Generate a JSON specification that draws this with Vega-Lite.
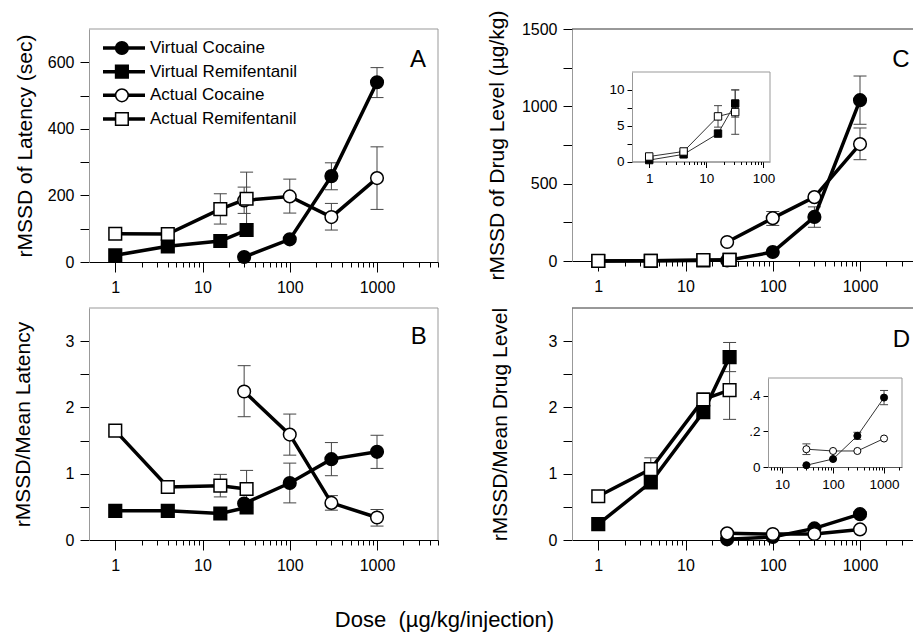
{
"$schema": "https://vega.github.io/schema/vega-lite/v6.json",
"width": 913, "height": 635, "autosize": {"type": "none"}, "padding": 0, "background": "white",
"config": {"view": {"stroke": null}, "font": "Liberation Sans",
  "axis": {"labelFont": "Liberation Sans", "titleFont": "Liberation Sans", "labelColor": "black", "titleColor": "black", "tickColor": "black", "domainColor": "black", "grid": false, "labelFontSize": 16, "titleFontSize": 21, "titleFontWeight": "normal", "labelOverlap": false, "labelFlush": false, "domainWidth": 1, "tickWidth": 1},
  "text": {"font": "Liberation Sans", "color": "black"}},
"title": {"text": "Dose\u00a0\u00a0(µg/kg/injection)", "orient": "bottom", "anchor": "middle", "frame": "group", "offset": -25, "dx": -12, "fontSize": 22, "fontWeight": "normal", "font": "Liberation Sans", "color": "black"},
"datasets": {
"m": [
{"p":"A","s":"Virtual Cocaine","d":30,"v":15},
{"p":"A","s":"Virtual Cocaine","d":100,"v":68},
{"p":"A","s":"Virtual Cocaine","d":300,"v":258,"lo":217,"hi":298},
{"p":"A","s":"Virtual Cocaine","d":1000,"v":540,"lo":494,"hi":584},
{"p":"A","s":"Virtual Remifentanil","d":1,"v":20},
{"p":"A","s":"Virtual Remifentanil","d":4,"v":47},
{"p":"A","s":"Virtual Remifentanil","d":16,"v":63},
{"p":"A","s":"Virtual Remifentanil","d":32,"v":96},
{"p":"A","s":"Actual Cocaine","d":30,"v":185,"lo":146,"hi":225},
{"p":"A","s":"Actual Cocaine","d":100,"v":197,"lo":147,"hi":249},
{"p":"A","s":"Actual Cocaine","d":300,"v":135,"lo":96,"hi":176},
{"p":"A","s":"Actual Cocaine","d":1000,"v":252,"lo":158,"hi":346},
{"p":"A","s":"Actual Remifentanil","d":1,"v":85},
{"p":"A","s":"Actual Remifentanil","d":4,"v":84},
{"p":"A","s":"Actual Remifentanil","d":16,"v":159,"lo":114,"hi":205},
{"p":"A","s":"Actual Remifentanil","d":32,"v":190,"lo":107,"hi":270},
{"p":"B","s":"Virtual Cocaine","d":30,"v":0.55},
{"p":"B","s":"Virtual Cocaine","d":100,"v":0.86,"lo":0.56,"hi":1.16},
{"p":"B","s":"Virtual Cocaine","d":300,"v":1.22,"lo":0.97,"hi":1.47},
{"p":"B","s":"Virtual Cocaine","d":1000,"v":1.33,"lo":1.08,"hi":1.58},
{"p":"B","s":"Virtual Remifentanil","d":1,"v":0.44},
{"p":"B","s":"Virtual Remifentanil","d":4,"v":0.44},
{"p":"B","s":"Virtual Remifentanil","d":16,"v":0.4},
{"p":"B","s":"Virtual Remifentanil","d":32,"v":0.49},
{"p":"B","s":"Actual Cocaine","d":30,"v":2.24,"lo":1.86,"hi":2.63},
{"p":"B","s":"Actual Cocaine","d":100,"v":1.59,"lo":1.28,"hi":1.9},
{"p":"B","s":"Actual Cocaine","d":300,"v":0.56,"lo":0.45,"hi":0.67},
{"p":"B","s":"Actual Cocaine","d":1000,"v":0.34,"lo":0.21,"hi":0.46},
{"p":"B","s":"Actual Remifentanil","d":1,"v":1.65},
{"p":"B","s":"Actual Remifentanil","d":4,"v":0.8},
{"p":"B","s":"Actual Remifentanil","d":16,"v":0.82,"lo":0.65,"hi":0.99},
{"p":"B","s":"Actual Remifentanil","d":32,"v":0.77,"lo":0.49,"hi":1.05},
{"p":"C","s":"Virtual Cocaine","d":30,"v":3},
{"p":"C","s":"Virtual Cocaine","d":100,"v":58},
{"p":"C","s":"Virtual Cocaine","d":300,"v":285,"lo":218,"hi":350},
{"p":"C","s":"Virtual Cocaine","d":1000,"v":1040,"lo":884,"hi":1196},
{"p":"C","s":"Virtual Remifentanil","d":1,"v":0.2},
{"p":"C","s":"Virtual Remifentanil","d":4,"v":1.0},
{"p":"C","s":"Virtual Remifentanil","d":16,"v":3.9},
{"p":"C","s":"Virtual Remifentanil","d":32,"v":8.1,"lo":6.2,"hi":10.0},
{"p":"C","s":"Actual Cocaine","d":30,"v":123},
{"p":"C","s":"Actual Cocaine","d":100,"v":277,"lo":230,"hi":320},
{"p":"C","s":"Actual Cocaine","d":300,"v":413},
{"p":"C","s":"Actual Cocaine","d":1000,"v":756,"lo":655,"hi":860},
{"p":"C","s":"Actual Remifentanil","d":1,"v":0.7},
{"p":"C","s":"Actual Remifentanil","d":4,"v":1.4},
{"p":"C","s":"Actual Remifentanil","d":16,"v":6.3,"lo":4.8,"hi":7.8},
{"p":"C","s":"Actual Remifentanil","d":32,"v":6.9,"lo":3.8,"hi":10.0},
{"p":"D","s":"Virtual Cocaine","d":30,"v":0.01},
{"p":"D","s":"Virtual Cocaine","d":100,"v":0.045},
{"p":"D","s":"Virtual Cocaine","d":300,"v":0.175,"lo":0.155,"hi":0.195},
{"p":"D","s":"Virtual Cocaine","d":1000,"v":0.39,"lo":0.35,"hi":0.43},
{"p":"D","s":"Virtual Remifentanil","d":1,"v":0.24},
{"p":"D","s":"Virtual Remifentanil","d":4,"v":0.87},
{"p":"D","s":"Virtual Remifentanil","d":16,"v":1.93},
{"p":"D","s":"Virtual Remifentanil","d":32,"v":2.76,"lo":2.54,"hi":2.98},
{"p":"D","s":"Actual Cocaine","d":30,"v":0.1,"lo":0.07,"hi":0.13},
{"p":"D","s":"Actual Cocaine","d":100,"v":0.09},
{"p":"D","s":"Actual Cocaine","d":300,"v":0.09},
{"p":"D","s":"Actual Cocaine","d":1000,"v":0.16},
{"p":"D","s":"Actual Remifentanil","d":1,"v":0.66},
{"p":"D","s":"Actual Remifentanil","d":4,"v":1.07,"lo":0.9,"hi":1.24},
{"p":"D","s":"Actual Remifentanil","d":16,"v":2.12,"lo":2.02,"hi":2.22},
{"p":"D","s":"Actual Remifentanil","d":32,"v":2.26,"lo":1.82,"hi":2.7}
],
"leg": [{"s":"Virtual Cocaine"},{"s":"Virtual Remifentanil"},{"s":"Actual Cocaine"},{"s":"Actual Remifentanil"}],
"one": [{"k":1}]
},
"layer": [
{"data": {"name": "m"}, "transform": [{"filter": "datum.p=='A'"}],
 "resolve": {"axis": {"x": "independent", "y": "independent"}},
 "layer": [
  {"mark": {"type":"rule","color":"#444","strokeWidth":1},
   "encoding": {"x": {"field":"d","type":"quantitative","scale":{"type":"log","domain":[0.5,5000],"range":[89,438]},"axis":null},
     "y": {"field":"lo","type":"quantitative","scale":{"domain":[0,700],"range":[262,29]},"axis":null}, "y2": {"field":"hi"}}},
  {"mark": {"type":"tick","orient":"horizontal","color":"#444","size":13,"thickness":1,"opacity":1},
   "encoding": {"x": {"field":"d","type":"quantitative","scale":{"type":"log","domain":[0.5,5000],"range":[89,438]},"axis":null},
     "y": {"field":"lo","type":"quantitative","scale":{"domain":[0,700],"range":[262,29]},"axis":null}}},
  {"mark": {"type":"tick","orient":"horizontal","color":"#444","size":13,"thickness":1,"opacity":1},
   "encoding": {"x": {"field":"d","type":"quantitative","scale":{"type":"log","domain":[0.5,5000],"range":[89,438]},"axis":null},
     "y": {"field":"hi","type":"quantitative","scale":{"domain":[0,700],"range":[262,29]},"axis":null}}},
  {"mark": {"type":"line","color":"black","strokeWidth":3.5},
   "encoding": {"x": {"field":"d","type":"quantitative","scale":{"type":"log","domain":[0.5,5000],"range":[89,438]},
       "axis":{"orient":"bottom","offset":-373,"title":null,"values":[1,10,100,1000],"labelExpr":"format(datum.value,'d')","tickSize":10,"labelPadding":7}},
     "y": {"field":"v","type":"quantitative","scale":{"domain":[0,700],"range":[262,29]},
       "axis":{"orient":"left","offset":-89,"title":"rMSSD of Latency (sec)","values":[0,100,200,300,400,500,600],"labelExpr":"datum.value % 200 == 0 ? format(datum.value,'d') : ''","tickSize":9,"labelPadding":6,"domainColor":"#999","titleAngle":270,"titleBaseline":"bottom","titleAlign":"center","titleX":-54}},
     "detail": {"field":"s"}}},
  {"mark": {"type":"point","size":160,"stroke":"black","strokeWidth":1.5,"opacity":1,"fillOpacity":1},
   "encoding": {"x": {"field":"d","type":"quantitative","scale":{"type":"log","domain":[0.5,5000],"range":[89,438]},
       "axis":{"orient":"bottom","offset":-373,"title":null,"values":[2,3,4,5,6,7,8,9,20,30,40,50,60,70,80,90,200,300,400,500,600,700,800,900,2000,3000,4000,5000],"labels":false,"domain":false,"tickSize":5}},
     "y": {"field":"v","type":"quantitative","scale":{"domain":[0,700],"range":[262,29]},"axis":null},
     "fill": {"field":"s","type":"nominal","scale":{"domain":["Virtual Cocaine","Virtual Remifentanil","Actual Cocaine","Actual Remifentanil"],"range":["black","black","white","white"]},"legend":null},
     "shape": {"field":"s","type":"nominal","scale":{"domain":["Virtual Cocaine","Virtual Remifentanil","Actual Cocaine","Actual Remifentanil"],"range":["circle","square","circle","square"]},"legend":null}}},
  {"data": {"name":"one"}, "mark": {"type":"rule","color":"#999","strokeWidth":1},
   "encoding": {"x": {"datum":0.5,"type":"quantitative","scale":{"type":"log","domain":[0.5,5000],"range":[89,438]},"axis":null}, "x2": {"datum":5000},
     "y": {"datum":700,"type":"quantitative","scale":{"domain":[0,700],"range":[262,29]},"axis":null}}},
  {"data": {"name":"one"}, "mark": {"type":"rule","color":"#999","strokeWidth":1},
   "encoding": {"x": {"datum":5000,"type":"quantitative","scale":{"type":"log","domain":[0.5,5000],"range":[89,438]},"axis":null},
     "y": {"datum":0,"type":"quantitative","scale":{"domain":[0,700],"range":[262,29]},"axis":null}, "y2": {"datum":700}}},
  {"data": {"name":"one"}, "mark": {"type":"text","fontSize":24,"align":"center","baseline":"middle"},
   "encoding": {"x": {"datum":2946,"type":"quantitative","scale":{"type":"log","domain":[0.5,5000],"range":[89,438]},"axis":null},
     "y": {"datum":606,"type":"quantitative","scale":{"domain":[0,700],"range":[262,29]},"axis":null}, "text": {"value":"A"}}}
 ]},
{"data": {"name": "m"}, "transform": [{"filter": "datum.p=='B'"}],
 "resolve": {"axis": {"x": "independent", "y": "independent"}},
 "layer": [
  {"mark": {"type":"rule","color":"#444","strokeWidth":1},
   "encoding": {"x": {"field":"d","type":"quantitative","scale":{"type":"log","domain":[0.5,5000],"range":[89,438]},"axis":null},
     "y": {"field":"lo","type":"quantitative","scale":{"domain":[0,3.5],"range":[540,308]},"axis":null}, "y2": {"field":"hi"}}},
  {"mark": {"type":"tick","orient":"horizontal","color":"#444","size":13,"thickness":1,"opacity":1},
   "encoding": {"x": {"field":"d","type":"quantitative","scale":{"type":"log","domain":[0.5,5000],"range":[89,438]},"axis":null},
     "y": {"field":"lo","type":"quantitative","scale":{"domain":[0,3.5],"range":[540,308]},"axis":null}}},
  {"mark": {"type":"tick","orient":"horizontal","color":"#444","size":13,"thickness":1,"opacity":1},
   "encoding": {"x": {"field":"d","type":"quantitative","scale":{"type":"log","domain":[0.5,5000],"range":[89,438]},"axis":null},
     "y": {"field":"hi","type":"quantitative","scale":{"domain":[0,3.5],"range":[540,308]},"axis":null}}},
  {"mark": {"type":"line","color":"black","strokeWidth":3.5},
   "encoding": {"x": {"field":"d","type":"quantitative","scale":{"type":"log","domain":[0.5,5000],"range":[89,438]},
       "axis":{"orient":"bottom","offset":-95,"title":null,"values":[1,10,100,1000],"labelExpr":"format(datum.value,'d')","tickSize":10,"labelPadding":7}},
     "y": {"field":"v","type":"quantitative","scale":{"domain":[0,3.5],"range":[540,308]},
       "axis":{"orient":"left","offset":-89,"title":"rMSSD/Mean Latency","values":[0,0.5,1,1.5,2,2.5,3],"labelExpr":"datum.value % 1 == 0 ? format(datum.value,'d') : ''","tickSize":9,"labelPadding":6,"domainColor":"#999","titleAngle":270,"titleBaseline":"bottom","titleAlign":"center","titleX":-56}},
     "detail": {"field":"s"}}},
  {"mark": {"type":"point","size":160,"stroke":"black","strokeWidth":1.5,"opacity":1,"fillOpacity":1},
   "encoding": {"x": {"field":"d","type":"quantitative","scale":{"type":"log","domain":[0.5,5000],"range":[89,438]},
       "axis":{"orient":"bottom","offset":-95,"title":null,"values":[2,3,4,5,6,7,8,9,20,30,40,50,60,70,80,90,200,300,400,500,600,700,800,900,2000,3000,4000,5000],"labels":false,"domain":false,"tickSize":5}},
     "y": {"field":"v","type":"quantitative","scale":{"domain":[0,3.5],"range":[540,308]},"axis":null},
     "fill": {"field":"s","type":"nominal","scale":{"domain":["Virtual Cocaine","Virtual Remifentanil","Actual Cocaine","Actual Remifentanil"],"range":["black","black","white","white"]},"legend":null},
     "shape": {"field":"s","type":"nominal","scale":{"domain":["Virtual Cocaine","Virtual Remifentanil","Actual Cocaine","Actual Remifentanil"],"range":["circle","square","circle","square"]},"legend":null}}},
  {"data": {"name":"one"}, "mark": {"type":"rule","color":"#999","strokeWidth":1},
   "encoding": {"x": {"datum":0.5,"type":"quantitative","scale":{"type":"log","domain":[0.5,5000],"range":[89,438]},"axis":null}, "x2": {"datum":5000},
     "y": {"datum":3.5,"type":"quantitative","scale":{"domain":[0,3.5],"range":[540,308]},"axis":null}}},
  {"data": {"name":"one"}, "mark": {"type":"rule","color":"#999","strokeWidth":1},
   "encoding": {"x": {"datum":5000,"type":"quantitative","scale":{"type":"log","domain":[0.5,5000],"range":[89,438]},"axis":null},
     "y": {"datum":0,"type":"quantitative","scale":{"domain":[0,3.5],"range":[540,308]},"axis":null}, "y2": {"datum":3.5}}},
  {"data": {"name":"one"}, "mark": {"type":"text","fontSize":24,"align":"center","baseline":"middle"},
   "encoding": {"x": {"datum":3000,"type":"quantitative","scale":{"type":"log","domain":[0.5,5000],"range":[89,438]},"axis":null},
     "y": {"datum":3.06,"type":"quantitative","scale":{"domain":[0,3.5],"range":[540,308]},"axis":null}, "text": {"value":"B"}}}
 ]},
{"data": {"name": "m"}, "transform": [{"filter": "datum.p=='C'"}],
 "resolve": {"axis": {"x": "independent", "y": "independent"}},
 "layer": [
  {"mark": {"type":"rule","color":"#444","strokeWidth":1},
   "encoding": {"x": {"field":"d","type":"quantitative","scale":{"type":"log","domain":[0.5,5000],"range":[572,921]},"axis":null},
     "y": {"field":"lo","type":"quantitative","scale":{"domain":[0,1500],"range":[261,29]},"axis":null}, "y2": {"field":"hi"}}},
  {"mark": {"type":"tick","orient":"horizontal","color":"#444","size":13,"thickness":1,"opacity":1},
   "encoding": {"x": {"field":"d","type":"quantitative","scale":{"type":"log","domain":[0.5,5000],"range":[572,921]},"axis":null},
     "y": {"field":"lo","type":"quantitative","scale":{"domain":[0,1500],"range":[261,29]},"axis":null}}},
  {"mark": {"type":"tick","orient":"horizontal","color":"#444","size":13,"thickness":1,"opacity":1},
   "encoding": {"x": {"field":"d","type":"quantitative","scale":{"type":"log","domain":[0.5,5000],"range":[572,921]},"axis":null},
     "y": {"field":"hi","type":"quantitative","scale":{"domain":[0,1500],"range":[261,29]},"axis":null}}},
  {"mark": {"type":"line","color":"black","strokeWidth":3.5},
   "encoding": {"x": {"field":"d","type":"quantitative","scale":{"type":"log","domain":[0.5,5000],"range":[572,921]},
       "axis":{"orient":"bottom","offset":-374,"title":null,"values":[1,10,100,1000],"labelExpr":"format(datum.value,'d')","tickSize":10,"labelPadding":7}},
     "y": {"field":"v","type":"quantitative","scale":{"domain":[0,1500],"range":[261,29]},
       "axis":{"orient":"left","offset":-572,"title":"rMSSD of Drug Level (µg/kg)","values":[0,250,500,750,1000,1250,1500],"labelExpr":"datum.value % 500 == 0 ? format(datum.value,'d') : ''","tickSize":9,"labelPadding":6,"domainColor":"#999","titleAngle":270,"titleBaseline":"bottom","titleAlign":"center","titleX":-65}},
     "detail": {"field":"s"}}},
  {"mark": {"type":"point","size":160,"stroke":"black","strokeWidth":1.5,"opacity":1,"fillOpacity":1},
   "encoding": {"x": {"field":"d","type":"quantitative","scale":{"type":"log","domain":[0.5,5000],"range":[572,921]},
       "axis":{"orient":"bottom","offset":-374,"title":null,"values":[2,3,4,5,6,7,8,9,20,30,40,50,60,70,80,90,200,300,400,500,600,700,800,900,2000,3000,4000,5000],"labels":false,"domain":false,"tickSize":5}},
     "y": {"field":"v","type":"quantitative","scale":{"domain":[0,1500],"range":[261,29]},"axis":null},
     "fill": {"field":"s","type":"nominal","scale":{"domain":["Virtual Cocaine","Virtual Remifentanil","Actual Cocaine","Actual Remifentanil"],"range":["black","black","white","white"]},"legend":null},
     "shape": {"field":"s","type":"nominal","scale":{"domain":["Virtual Cocaine","Virtual Remifentanil","Actual Cocaine","Actual Remifentanil"],"range":["circle","square","circle","square"]},"legend":null}}},
  {"data": {"name":"one"}, "mark": {"type":"rule","color":"#333","strokeWidth":1},
   "encoding": {"x": {"datum":0.5,"type":"quantitative","scale":{"type":"log","domain":[0.5,5000],"range":[572,921]},"axis":null}, "x2": {"datum":5000},
     "y": {"datum":1500,"type":"quantitative","scale":{"domain":[0,1500],"range":[261,29]},"axis":null}}},
  {"data": {"name":"one"}, "mark": {"type":"text","fontSize":24,"align":"center","baseline":"middle"},
   "encoding": {"x": {"datum":2946,"type":"quantitative","scale":{"type":"log","domain":[0.5,5000],"range":[572,921]},"axis":null},
     "y": {"datum":1300,"type":"quantitative","scale":{"domain":[0,1500],"range":[261,29]},"axis":null}, "text": {"value":"C"}}}
 ]},
{"data": {"name": "m"}, "transform": [{"filter": "datum.p=='D'"}],
 "resolve": {"axis": {"x": "independent", "y": "independent"}},
 "layer": [
  {"mark": {"type":"rule","color":"#444","strokeWidth":1},
   "encoding": {"x": {"field":"d","type":"quantitative","scale":{"type":"log","domain":[0.5,5000],"range":[572,921]},"axis":null},
     "y": {"field":"lo","type":"quantitative","scale":{"domain":[0,3.5],"range":[540,308]},"axis":null}, "y2": {"field":"hi"}}},
  {"mark": {"type":"tick","orient":"horizontal","color":"#444","size":13,"thickness":1,"opacity":1},
   "encoding": {"x": {"field":"d","type":"quantitative","scale":{"type":"log","domain":[0.5,5000],"range":[572,921]},"axis":null},
     "y": {"field":"lo","type":"quantitative","scale":{"domain":[0,3.5],"range":[540,308]},"axis":null}}},
  {"mark": {"type":"tick","orient":"horizontal","color":"#444","size":13,"thickness":1,"opacity":1},
   "encoding": {"x": {"field":"d","type":"quantitative","scale":{"type":"log","domain":[0.5,5000],"range":[572,921]},"axis":null},
     "y": {"field":"hi","type":"quantitative","scale":{"domain":[0,3.5],"range":[540,308]},"axis":null}}},
  {"mark": {"type":"line","color":"black","strokeWidth":3.5},
   "encoding": {"x": {"field":"d","type":"quantitative","scale":{"type":"log","domain":[0.5,5000],"range":[572,921]},
       "axis":{"orient":"bottom","offset":-95,"title":null,"values":[1,10,100,1000],"labelExpr":"format(datum.value,'d')","tickSize":10,"labelPadding":7}},
     "y": {"field":"v","type":"quantitative","scale":{"domain":[0,3.5],"range":[540,308]},
       "axis":{"orient":"left","offset":-572,"title":"rMSSD/Mean Drug Level","values":[0,0.5,1,1.5,2,2.5,3],"labelExpr":"datum.value % 1 == 0 ? format(datum.value,'d') : ''","tickSize":9,"labelPadding":6,"domainColor":"#999","titleAngle":270,"titleBaseline":"bottom","titleAlign":"center","titleX":-62}},
     "detail": {"field":"s"}}},
  {"mark": {"type":"point","size":160,"stroke":"black","strokeWidth":1.5,"opacity":1,"fillOpacity":1},
   "encoding": {"x": {"field":"d","type":"quantitative","scale":{"type":"log","domain":[0.5,5000],"range":[572,921]},
       "axis":{"orient":"bottom","offset":-95,"title":null,"values":[2,3,4,5,6,7,8,9,20,30,40,50,60,70,80,90,200,300,400,500,600,700,800,900,2000,3000,4000,5000],"labels":false,"domain":false,"tickSize":5}},
     "y": {"field":"v","type":"quantitative","scale":{"domain":[0,3.5],"range":[540,308]},"axis":null},
     "fill": {"field":"s","type":"nominal","scale":{"domain":["Virtual Cocaine","Virtual Remifentanil","Actual Cocaine","Actual Remifentanil"],"range":["black","black","white","white"]},"legend":null},
     "shape": {"field":"s","type":"nominal","scale":{"domain":["Virtual Cocaine","Virtual Remifentanil","Actual Cocaine","Actual Remifentanil"],"range":["circle","square","circle","square"]},"legend":null}}},
  {"data": {"name":"one"}, "mark": {"type":"rule","color":"#333","strokeWidth":1},
   "encoding": {"x": {"datum":0.5,"type":"quantitative","scale":{"type":"log","domain":[0.5,5000],"range":[572,921]},"axis":null}, "x2": {"datum":5000},
     "y": {"datum":3.5,"type":"quantitative","scale":{"domain":[0,3.5],"range":[540,308]},"axis":null}}},
  {"data": {"name":"one"}, "mark": {"type":"text","fontSize":24,"align":"center","baseline":"middle"},
   "encoding": {"x": {"datum":2980,"type":"quantitative","scale":{"type":"log","domain":[0.5,5000],"range":[572,921]},"axis":null},
     "y": {"datum":3.02,"type":"quantitative","scale":{"domain":[0,3.5],"range":[540,308]},"axis":null}, "text": {"value":"D"}}}
 ]},
{"data": {"name": "m"}, "transform": [{"filter": "datum.p=='C' && indexof(datum.s,'Remif')>=0"}],
 "resolve": {"axis": {"x": "independent", "y": "independent"}},
 "layer": [
  {"mark": {"type":"rule","color":"#444","strokeWidth":1},
   "encoding": {"x": {"field":"d","type":"quantitative","scale":{"type":"log","domain":[0.5,130],"range":[632,770]},"axis":null},
     "y": {"field":"lo","type":"quantitative","scale":{"domain":[0,12.5],"range":[161.5,72]},"axis":null}, "y2": {"field":"hi"}}},
  {"mark": {"type":"tick","orient":"horizontal","color":"#444","size":8,"thickness":1,"opacity":1},
   "encoding": {"x": {"field":"d","type":"quantitative","scale":{"type":"log","domain":[0.5,130],"range":[632,770]},"axis":null},
     "y": {"field":"lo","type":"quantitative","scale":{"domain":[0,12.5],"range":[161.5,72]},"axis":null}}},
  {"mark": {"type":"tick","orient":"horizontal","color":"#444","size":8,"thickness":1,"opacity":1},
   "encoding": {"x": {"field":"d","type":"quantitative","scale":{"type":"log","domain":[0.5,130],"range":[632,770]},"axis":null},
     "y": {"field":"hi","type":"quantitative","scale":{"domain":[0,12.5],"range":[161.5,72]},"axis":null}}},
  {"mark": {"type":"line","color":"#333","strokeWidth":1},
   "encoding": {"x": {"field":"d","type":"quantitative","scale":{"type":"log","domain":[0.5,130],"range":[632,770]},
       "axis":{"orient":"bottom","offset":-473.5,"title":null,"values":[1,10,100],"labelExpr":"format(datum.value,'d')","tickSize":6,"labelPadding":4,"labelFontSize":13.5,"domainColor":"#555"}},
     "y": {"field":"v","type":"quantitative","scale":{"domain":[0,12.5],"range":[161.5,72]},
       "axis":{"orient":"left","offset":-632,"title":null,"values":[0,2.5,5,7.5,10],"labelExpr":"datum.value % 5 == 0 ? format(datum.value,'d') : ''","tickSize":5,"labelPadding":3,"labelFontSize":13.5,"domainColor":"#999"}},
     "detail": {"field":"s"}}},
  {"mark": {"type":"point","size":55,"stroke":"black","strokeWidth":1,"opacity":1,"fillOpacity":1},
   "encoding": {"x": {"field":"d","type":"quantitative","scale":{"type":"log","domain":[0.5,130],"range":[632,770]},
       "axis":{"orient":"bottom","offset":-473.5,"title":null,"values":[2,3,4,5,6,7,8,9,20,30,40,50,60,70,80,90],"labels":false,"domain":false,"tickSize":3}},
     "y": {"field":"v","type":"quantitative","scale":{"domain":[0,12.5],"range":[161.5,72]},"axis":null},
     "fill": {"field":"s","type":"nominal","scale":{"domain":["Virtual Cocaine","Virtual Remifentanil","Actual Cocaine","Actual Remifentanil"],"range":["black","black","white","white"]},"legend":null},
     "shape": {"field":"s","type":"nominal","scale":{"domain":["Virtual Cocaine","Virtual Remifentanil","Actual Cocaine","Actual Remifentanil"],"range":["circle","square","circle","square"]},"legend":null}}},
  {"data": {"name":"one"}, "mark": {"type":"rule","color":"#999","strokeWidth":1},
   "encoding": {"x": {"datum":0.5,"type":"quantitative","scale":{"type":"log","domain":[0.5,130],"range":[632,770]},"axis":null}, "x2": {"datum":130},
     "y": {"datum":12.5,"type":"quantitative","scale":{"domain":[0,12.5],"range":[161.5,72]},"axis":null}}},
  {"data": {"name":"one"}, "mark": {"type":"rule","color":"#999","strokeWidth":1},
   "encoding": {"x": {"datum":130,"type":"quantitative","scale":{"type":"log","domain":[0.5,130],"range":[632,770]},"axis":null},
     "y": {"datum":0,"type":"quantitative","scale":{"domain":[0,12.5],"range":[161.5,72]},"axis":null}, "y2": {"datum":12.5}}}
 ]},
{"data": {"name": "m"}, "transform": [{"filter": "datum.p=='D' && indexof(datum.s,'Cocaine')>=0"}],
 "resolve": {"axis": {"x": "independent", "y": "independent"}},
 "layer": [
  {"mark": {"type":"rule","color":"#444","strokeWidth":1},
   "encoding": {"x": {"field":"d","type":"quantitative","scale":{"type":"log","domain":[5.3,2250],"range":[768,902]},"axis":null},
     "y": {"field":"lo","type":"quantitative","scale":{"domain":[0,0.5],"range":[467,378]},"axis":null}, "y2": {"field":"hi"}}},
  {"mark": {"type":"tick","orient":"horizontal","color":"#444","size":8,"thickness":1,"opacity":1},
   "encoding": {"x": {"field":"d","type":"quantitative","scale":{"type":"log","domain":[5.3,2250],"range":[768,902]},"axis":null},
     "y": {"field":"lo","type":"quantitative","scale":{"domain":[0,0.5],"range":[467,378]},"axis":null}}},
  {"mark": {"type":"tick","orient":"horizontal","color":"#444","size":8,"thickness":1,"opacity":1},
   "encoding": {"x": {"field":"d","type":"quantitative","scale":{"type":"log","domain":[5.3,2250],"range":[768,902]},"axis":null},
     "y": {"field":"hi","type":"quantitative","scale":{"domain":[0,0.5],"range":[467,378]},"axis":null}}},
  {"mark": {"type":"line","color":"#333","strokeWidth":1},
   "encoding": {"x": {"field":"d","type":"quantitative","scale":{"type":"log","domain":[5.3,2250],"range":[768,902]},
       "axis":{"orient":"bottom","offset":-168,"title":null,"values":[10,100,1000],"labelExpr":"format(datum.value,'d')","tickSize":6,"labelPadding":4,"labelFontSize":13.5,"domainColor":"#555"}},
     "y": {"field":"v","type":"quantitative","scale":{"domain":[0,0.5],"range":[467,378]},
       "axis":{"orient":"left","offset":-768,"title":null,"values":[0,0.2,0.4],"labelExpr":"datum.value == 0 ? '0' : datum.value < 0.3 ? '.2' : '.4'","tickSize":5,"labelPadding":3,"labelFontSize":13.5,"domainColor":"#999"}},
     "detail": {"field":"s"}}},
  {"mark": {"type":"point","size":50,"stroke":"black","strokeWidth":1,"opacity":1,"fillOpacity":1},
   "encoding": {"x": {"field":"d","type":"quantitative","scale":{"type":"log","domain":[5.3,2250],"range":[768,902]},
       "axis":{"orient":"bottom","offset":-168,"title":null,"values":[6,7,8,9,20,30,40,50,60,70,80,90,200,300,400,500,600,700,800,900,2000],"labels":false,"domain":false,"tickSize":3}},
     "y": {"field":"v","type":"quantitative","scale":{"domain":[0,0.5],"range":[467,378]},"axis":null},
     "fill": {"field":"s","type":"nominal","scale":{"domain":["Virtual Cocaine","Virtual Remifentanil","Actual Cocaine","Actual Remifentanil"],"range":["black","black","white","white"]},"legend":null},
     "shape": {"field":"s","type":"nominal","scale":{"domain":["Virtual Cocaine","Virtual Remifentanil","Actual Cocaine","Actual Remifentanil"],"range":["circle","square","circle","square"]},"legend":null}}},
  {"data": {"name":"one"}, "mark": {"type":"rule","color":"#999","strokeWidth":1},
   "encoding": {"x": {"datum":5.3,"type":"quantitative","scale":{"type":"log","domain":[5.3,2250],"range":[768,902]},"axis":null}, "x2": {"datum":2250},
     "y": {"datum":0.5,"type":"quantitative","scale":{"domain":[0,0.5],"range":[467,378]},"axis":null}}},
  {"data": {"name":"one"}, "mark": {"type":"rule","color":"#999","strokeWidth":1},
   "encoding": {"x": {"datum":2250,"type":"quantitative","scale":{"type":"log","domain":[5.3,2250],"range":[768,902]},"axis":null},
     "y": {"datum":0,"type":"quantitative","scale":{"domain":[0,0.5],"range":[467,378]},"axis":null}, "y2": {"datum":0.5}}}
 ]},
{"data": {"name": "leg"},
 "layer": [
  {"mark": {"type":"rule","color":"black","strokeWidth":3.5},
   "encoding": {"x": {"datum":0,"type":"quantitative","scale":{"domain":[0,1],"range":[103,145]},"axis":null}, "x2": {"datum":1},
     "y": {"field":"s","type":"nominal","scale":{"type":"point","domain":["Virtual Cocaine","Virtual Remifentanil","Actual Cocaine","Actual Remifentanil"],"range":[48,119],"padding":0},"axis":null}}},
  {"mark": {"type":"point","size":160,"stroke":"black","strokeWidth":1.5,"opacity":1,"fillOpacity":1},
   "encoding": {"x": {"datum":0.45,"type":"quantitative","scale":{"domain":[0,1],"range":[103,145]},"axis":null},
     "y": {"field":"s","type":"nominal","scale":{"type":"point","domain":["Virtual Cocaine","Virtual Remifentanil","Actual Cocaine","Actual Remifentanil"],"range":[48,119],"padding":0},"axis":null},
     "fill": {"field":"s","type":"nominal","scale":{"domain":["Virtual Cocaine","Virtual Remifentanil","Actual Cocaine","Actual Remifentanil"],"range":["black","black","white","white"]},"legend":null},
     "shape": {"field":"s","type":"nominal","scale":{"domain":["Virtual Cocaine","Virtual Remifentanil","Actual Cocaine","Actual Remifentanil"],"range":["circle","square","circle","square"]},"legend":null}}},
  {"mark": {"type":"text","align":"left","baseline":"middle","dx":5,"fontSize":17},
   "encoding": {"x": {"datum":1,"type":"quantitative","scale":{"domain":[0,1],"range":[103,145]},"axis":null},
     "y": {"field":"s","type":"nominal","scale":{"type":"point","domain":["Virtual Cocaine","Virtual Remifentanil","Actual Cocaine","Actual Remifentanil"],"range":[48,119],"padding":0},"axis":null},
     "text": {"field":"s"}}}
 ]}
],
"resolve": {"scale": {"x": "independent", "y": "independent"}}
}
